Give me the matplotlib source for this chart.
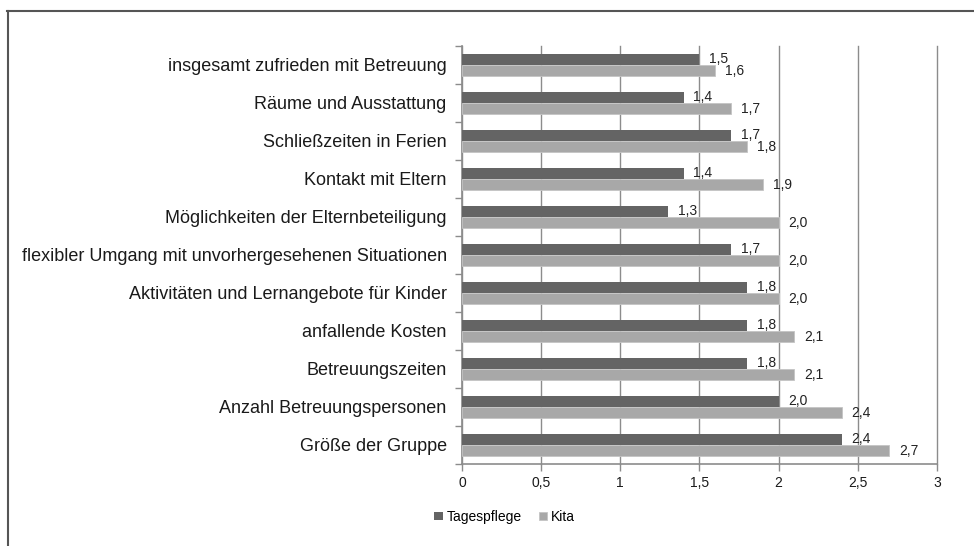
import numpy as np
import matplotlib.pyplot as plt
from matplotlib.lines import Line2D
from matplotlib.ticker import FixedLocator, NullFormatter

plt.rcParams["font.family"] = ["Liberation Sans", "DejaVu Sans"]

categories = [
    "insgesamt zufrieden mit Betreuung",
    "Räume und Ausstattung",
    "Schließzeiten in Ferien",
    "Kontakt mit Eltern",
    "Möglichkeiten der Elternbeteiligung",
    "flexibler Umgang mit unvorhergesehenen Situationen",
    "Aktivitäten und Lernangebote für Kinder",
    "anfallende Kosten",
    "Betreuungszeiten",
    "Anzahl Betreuungspersonen",
    "Größe der Gruppe",
]
tagespflege = [1.5, 1.4, 1.7, 1.4, 1.3, 1.7, 1.8, 1.8, 1.8, 2.0, 2.4]
kita = [1.6, 1.7, 1.8, 1.9, 2.0, 2.0, 2.0, 2.1, 2.1, 2.4, 2.7]
xticks = [0, 0.5, 1, 1.5, 2, 2.5, 3]
xtick_labels = ["0", "0,5", "1", "1,5", "2", "2,5", "3"]

DARK = "#646464"
LIGHT = "#a8a8a8"
GRID = "#8c8c8c"

fig = plt.figure(figsize=(9.74, 5.46), dpi=100)
ax = fig.add_axes([0.4743, 0.1502, 0.4877, 0.7656])

n = len(categories)
y = np.arange(n)
h = 0.28
ax.barh(y - h / 2, tagespflege, height=h, color=DARK, zorder=3, label="Tagespflege")
ax.barh(y + h / 2, kita, height=h, color=LIGHT, edgecolor="#c4c4c4", linewidth=0.6,
        zorder=3, label="Kita")

for i in range(n):
    ax.annotate(f"{tagespflege[i]:.1f}".replace(".", ","), (tagespflege[i], y[i] - h / 2 - 0.02),
                xytext=(7, 0), textcoords="offset points", va="center", ha="left",
                fontsize=10, color="#222222", zorder=4)
    ax.annotate(f"{kita[i]:.1f}".replace(".", ","), (kita[i], y[i] + h / 2 + 0.02),
                xytext=(7, 0), textcoords="offset points", va="center", ha="left",
                fontsize=10, color="#222222", zorder=4)

ax.set_ylim(n - 0.5, -0.5)
ax.set_xlim(0, 3)
ax.set_yticks(y)
ax.set_yticklabels(categories, fontsize=13, color="#1a1a1a")
ax.yaxis.set_minor_locator(FixedLocator(np.arange(-0.5, n, 1.0)))
ax.yaxis.set_minor_formatter(NullFormatter())
ax.tick_params(axis="y", which="major", length=0, pad=11)
ax.tick_params(axis="y", which="minor", length=5, color=GRID, width=1)
ax.set_xticks(xticks)
ax.set_xticklabels(xtick_labels, fontsize=10, color="#1a1a1a")
ax.tick_params(axis="x", length=5, color=GRID, width=1, pad=4)

ax.xaxis.grid(True, color=GRID, lw=1, zorder=0)
for gl in ax.get_xgridlines():
    gl.set_clip_on(False)
for s in ["top", "right"]:
    ax.spines[s].set_visible(False)
for s in ["left", "bottom"]:
    ax.spines[s].set_color(GRID)
    ax.spines[s].set_linewidth(1.2)

ax.legend(loc="upper center", bbox_to_anchor=(0.09, -0.08), ncol=2, frameon=False,
          fontsize=10, handlelength=0.6, handleheight=0.6, handletextpad=0.3, columnspacing=1.2)

# outer frame (top and left)
fig.add_artist(Line2D([7 / 974, 1], [1 - 11 / 546, 1 - 11 / 546], color="#555555", lw=1.5))
fig.add_artist(Line2D([8 / 974, 8 / 974], [0, 1 - 11 / 546], color="#555555", lw=1.5))

fig.savefig("out.png", dpi=100)
